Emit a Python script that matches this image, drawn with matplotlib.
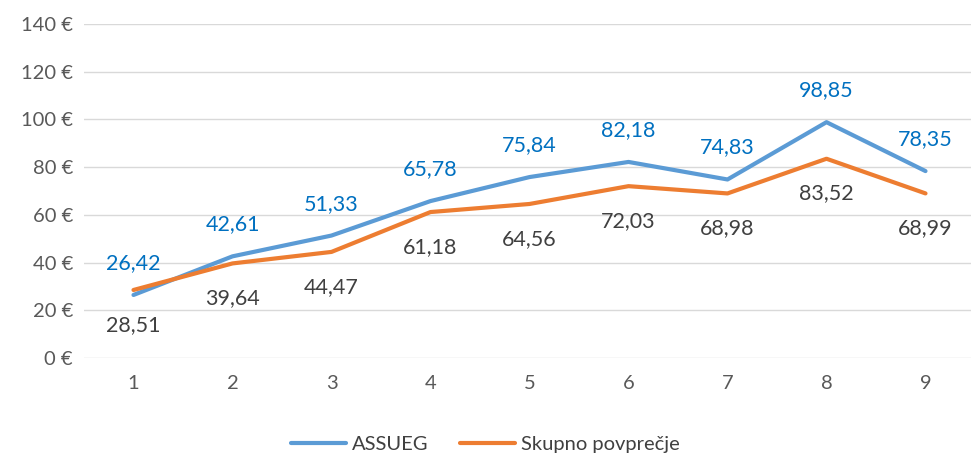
import numpy as np
import matplotlib.pyplot as plt

plt.rcParams['font.family'] = ['Lato', 'DejaVu Sans']

categories = ['1', '2', '3', '4', '5', '6', '7', '8', '9']
assueg = [26.42, 42.61, 51.33, 65.78, 75.84, 82.18, 74.83, 98.85, 78.35]
povprecje = [28.51, 39.64, 44.47, 61.18, 64.56, 72.03, 68.98, 83.52, 68.99]
y_ticks = [0, 20, 40, 60, 80, 100, 120, 140]

blue = '#5B9BD5'
orange = '#ED7D31'

fig = plt.figure(figsize=(9.71, 4.55), dpi=100)
ax = fig.add_axes([84 / 971, 1 - 358 / 455, 891 / 971, (358 - 24) / 455])

x = np.arange(len(categories))
ax.plot(x, assueg, color=blue, lw=3, label='ASSUEG', solid_capstyle='round')
ax.plot(x, povprecje, color=orange, lw=3, label='Skupno povprečje', solid_capstyle='round')

def fmt(v):
    return f'{v:.2f}'.replace('.', ',')

for xi, v in zip(x, assueg):
    ax.annotate(fmt(v), (xi, v), xytext=(0, 23), textcoords='offset points',
                ha='center', va='center', fontsize=15.5, color='#0070C0')
for xi, v in zip(x, povprecje):
    ax.annotate(fmt(v), (xi, v), xytext=(0, -25), textcoords='offset points',
                ha='center', va='center', fontsize=15.5, color='#404040')

ax.set_xlim(-0.5, len(categories) - 0.5)
ax.set_ylim(0, 140)
ax.set_xticks(x)
ax.set_xticklabels(categories)
ax.set_yticks(y_ticks)
ax.set_yticklabels([f'{t} €' for t in y_ticks])
ax.tick_params(axis='both', length=0, labelsize=14.5, labelcolor='#595959')
ax.tick_params(axis='x', pad=12)
ax.tick_params(axis='y', pad=8)
ax.grid(axis='y', color='#D9D9D9', lw=1)
ax.set_axisbelow(True)
for s in ax.spines.values():
    s.set_visible(False)

fig.legend(loc='lower center', bbox_to_anchor=(0.5, -0.035), ncol=2, frameon=False,
           fontsize=14.5, handlelength=2.7, handletextpad=0.3, columnspacing=1.6,
           labelcolor='#404040')

fig.savefig('out.png', dpi=100)
